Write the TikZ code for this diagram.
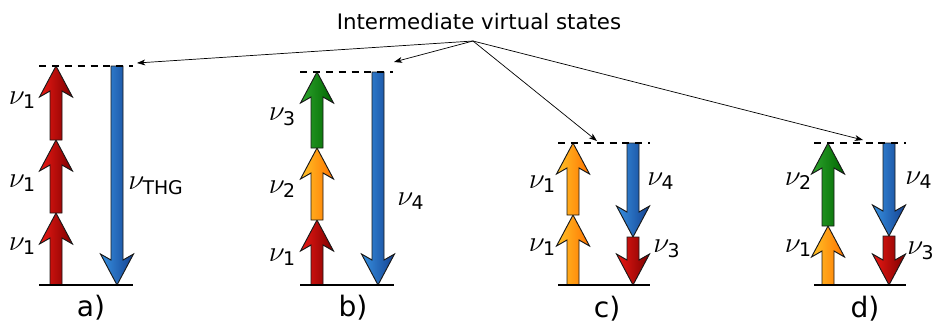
\documentclass[tikz,border=0pt]{standalone}
\usepackage{fontspec}
\setmainfont{DejaVu Sans}
\usepackage{amsmath}
\definecolor{redL}{RGB}{235, 25, 20}
\definecolor{redR}{RGB}{125, 0, 0}
\definecolor{blueL}{RGB}{55, 145, 225}
\definecolor{blueR}{RGB}{20, 65, 145}
\definecolor{orangeL}{RGB}{255, 195, 40}
\definecolor{orangeR}{RGB}{255, 115, 0}
\definecolor{greenL}{RGB}{45, 165, 45}
\definecolor{greenR}{RGB}{0, 100, 0}
\usetikzlibrary{arrows.meta, positioning, calc}

% fat photon arrow: x, from, to, colour
\newcommand{\photon}[4]{%
  \pgfmathsetmacro{\wy}{#3+31*sign(#2-#3)}%
  \pgfmathsetmacro{\jy}{#3+25*sign(#2-#3)}%
  \draw[fatline, left color=#4L, right color=#4R]
    ({#1-6},#2) -- ({#1-6},\jy) -- ({#1-16.5},\wy) -- (#1,#3)
    -- ({#1+16.5},\wy) -- ({#1+6},\jy) -- ({#1+6},#2) -- cycle;}
\newcommand{\nul}[1]{$\nu_{\text{#1}}$}

\begin{document}
\begin{tikzpicture}[x=0.03cm, y=-0.03cm,
    fatline/.style={draw=black!90, line width=0.8pt, line join=miter},
    ground/.style={line width=2.2pt},
    virtual/.style={line width=2.2pt, dash pattern=on 6pt off 5pt},
    pointer/.style={-{Stealth[length=7pt, width=5pt, inset=2pt]}, line width=0.6pt},
    freq/.style={font=\fontsize{23}{26}\selectfont, inner sep=1pt},
    panel/.style={font=\fontsize{24}{28}\selectfont}]
  \useasboundingbox (0,0) rectangle (933,329);

  % Title and its pointers
  \node[font=\fontsize{18.2}{22}\selectfont] (title) at (479,22) {Intermediate virtual states};
  \coordinate (hub) at (473,41);

  % Panel a
  \photon{56}{285}{213}{red}
  \photon{56}{213}{140}{red}
  \photon{56}{140}{66}{red}
  \photon{117}{66}{285}{blue}
  \draw[virtual] (39,66) -- (133,66);
  \draw[ground] (39,285) -- (133,285);
  \coordinate (va) at (137,63);
  \node[freq, anchor=east] (a1) at (37,100) {\nul{1}};
  \node[freq, anchor=east] (a2) at (37,183) {\nul{1}};
  \node[freq, anchor=east] (a3) at (37,246) {\nul{1}};
  \node[freq, anchor=west] (a4) at (127,186) {\nul{THG}};
  \node[panel] (pa) at (91,308) {a)};

  % Panel b
  \photon{317}{285}{220}{red}
  \photon{317}{220}{148}{orange}
  \photon{317}{148}{72}{green}
  \photon{378}{72}{285}{blue}
  \draw[virtual] (300,72) -- (393,72);
  \draw[ground] (300,285) -- (394,285);
  \coordinate (vb) at (394,62);
  \node[freq, anchor=east] (b3) at (297,117) {\nul{3}};
  \node[freq, anchor=east] (b2) at (297,189) {\nul{2}};
  \node[freq, anchor=east] (b1) at (297,257) {\nul{1}};
  \node[freq, anchor=west] (b4) at (396,201) {\nul{4}};
  \node[panel] (pb) at (353,308) {b)};

  % Panel c
  \photon{573}{285}{215}{orange}
  \photon{573}{215}{143}{orange}
  \photon{633}{143}{237}{blue}
  \photon{633}{237}{285}{red}
  \draw[virtual] (558,143) -- (650,143);
  \draw[ground] (558,285) -- (650,285);
  \coordinate (vc) at (597,141);
  \node[freq, anchor=east] (c1) at (557,184) {\nul{1}};
  \node[freq, anchor=east] (c2) at (557,247) {\nul{1}};
  \node[freq, anchor=west] (c4) at (646,181) {\nul{4}};
  \node[freq, anchor=west] (c3) at (652,249) {\nul{3}};
  \node[panel] (pc) at (607,309) {c)};

  % Panel d
  \photon{828}{285}{226}{orange}
  \photon{828}{226}{143}{green}
  \photon{889}{143}{236}{blue}
  \photon{889}{236}{285}{red}
  \draw[virtual] (814,143) -- (906,143);
  \draw[ground] (814,285) -- (906,285);
  \coordinate (vd) at (863,140);
  \node[freq, anchor=east] (d2) at (813,181) {\nul{2}};
  \node[freq, anchor=east] (d1) at (813,248) {\nul{1}};
  \node[freq, anchor=west] (d4) at (904,180) {\nul{4}};
  \node[freq, anchor=west] (d3) at (906,251) {\nul{3}};
  \node[panel] (pd) at (865,309) {d)};

  % pointers to the virtual levels
  \draw[pointer] (hub) -- (va);
  \draw[pointer] (hub) -- (vb);
  \draw[pointer] (hub) -- (vc);
  \draw[pointer] (hub) -- (vd);
\end{tikzpicture}
\end{document}
